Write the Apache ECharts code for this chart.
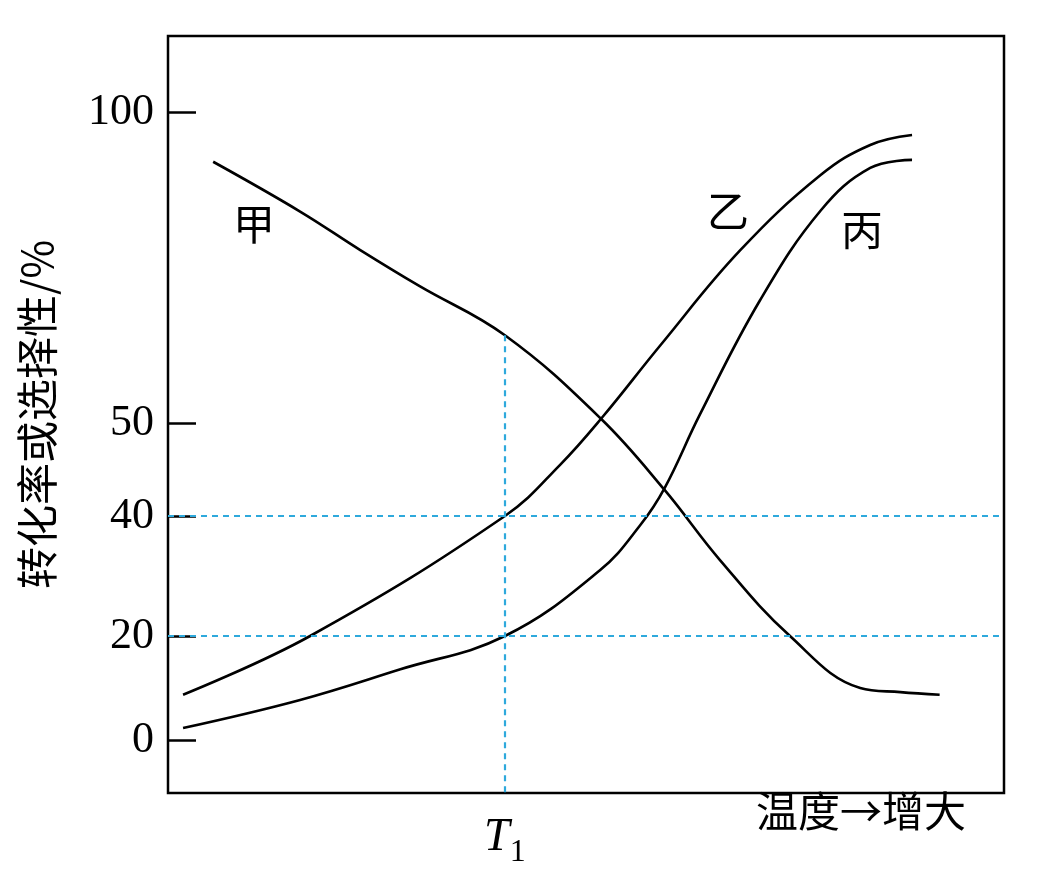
<!DOCTYPE html>
<html><head><meta charset="utf-8">
<script src="https://cdn.jsdelivr.net/npm/echarts@6/dist/echarts.min.js"></script>
<style>html,body{margin:0;padding:0;background:#fff}#main{width:1047px;height:883px}</style>
</head><body><div id="main"></div>
<script>
// schematic y scale: piecewise, breakpoints (value -> display units)
var yBreaks = [0, 20, 40, 50, 100];
var yDisp = [0, 104, 224, 317, 628];
var yTicks = [0, 20, 40, 50, 100];
var t1 = 40.3;

// curves [x (0-100 temperature), y (%)]
var jia = [[5.4,92],[15.8,84],[23,77.8],[30.1,72],[40.3,64.1],[51.7,50.8],[59.4,42.8],[66,32.7],[74.4,20],[82.8,10],[87.6,9.2],[92.3,8.7]];
var yi = [[1.8,8.7],[17,20],[40.3,40],[46.9,45.5],[52,51],[58.9,62.5],[68.4,77.7],[78.1,89.9],[84,94.7],[89,96.3]];
var bing = [[1.8,2.3],[15.8,7.7],[27.8,13.6],[40.3,20],[51.7,31],[56.5,38.5],[59.4,43],[63.6,51.3],[70.8,69.7],[78.1,84.2],[84,91],[89,92.3]];

function toDisp(v){
  for (var i=1;i<yBreaks.length;i++){
    if (v<=yBreaks[i] || i==yBreaks.length-1){
      var a=yBreaks[i-1],b=yBreaks[i];
      return yDisp[i-1]+(v-a)/(b-a)*(yDisp[i]-yDisp[i-1]);
    }
  }
}
function fromDisp(d){
  for (var i=0;i<yDisp.length;i++) if (Math.abs(yDisp[i]-d)<0.5) return yBreaks[i];
  return '';
}
function conv(arr){ return arr.map(function(p){return [p[0], toDisp(p[1])];}); }

var serif = '"Liberation Serif","DejaVu Serif",serif';
var cjk = '"Noto Sans CJK SC",sans-serif';
var blue = '#2ea9dc';

var myChart = echarts.init(document.getElementById('main'));
function curve(d){
  return {type:'line', data:conv(d), smooth:0.4, symbol:'none',
    lineStyle:{color:'#000', width:2.6}};
}
myChart.setOption({
  animation:false,
  grid:{left:168, right:43, top:36, bottom:90, show:true, borderColor:'#000', borderWidth:2.5, containLabel:false, outerBoundsMode:'none'},
  xAxis:{type:'value', min:0, max:100, axisLine:{show:false}, splitLine:{show:false}, axisTick:{show:false},
    axisLabel:{customValues:[t1], margin:14, formatter:function(){return '{i|T}{s|1}';},
      rich:{i:{fontFamily:serif, fontStyle:'italic', fontSize:46, color:'#000'},
            s:{fontFamily:serif, fontSize:32, color:'#000', verticalAlign:'bottom', padding:[30,0,0,0]}}},
    name:'温度→增大', nameLocation:'end', nameGap:-248, nameTextStyle:{fontFamily:cjk, fontSize:42, color:'#000', padding:[50,0,0,0], verticalAlign:'top'}
  },
  yAxis:{type:'value', min:-53, max:704, axisLine:{show:false}, splitLine:{show:false},
    axisTick:{show:true, inside:true, length:28, customValues:yTicks.map(toDisp), lineStyle:{color:'#000', width:2.5}},
    axisLabel:{customValues:yTicks.map(toDisp), formatter:function(v){return fromDisp(v);}, margin:14,
      fontFamily:serif, fontSize:44, color:'#000'},
    name:'转化率或选择性/%', nameLocation:'middle', nameRotate:90, nameGap:110,
    nameTextStyle:{fontFamily:cjk, fontSize:42, color:'#000'}
  },
  series:[
    curve(jia), curve(yi), curve(bing),
    {type:'line', data:[], markLine:{silent:true, symbol:'none', label:{show:false},
      lineStyle:{color:blue, type:[6,5], width:2.2},
      data:[[{coord:[0,toDisp(40)]},{coord:[100,toDisp(40)]}],
            [{coord:[0,toDisp(20)]},{coord:[100,toDisp(20)]}],
            [{coord:[t1,toDisp(64.1)]},{coord:[t1,-53]}]]}}
  ]
});
var labels = [['甲',10.3,82],['乙',67,84],['丙',83,81]];
myChart.setOption({graphic:labels.map(function(l){
  var p = myChart.convertToPixel({gridIndex:0},[l[1],toDisp(l[2])]);
  return {type:'text', x:p[0], y:p[1], style:{text:l[0], font:'42px '+cjk, fill:'#000', align:'center', verticalAlign:'middle'}};
})});
</script></body></html>
